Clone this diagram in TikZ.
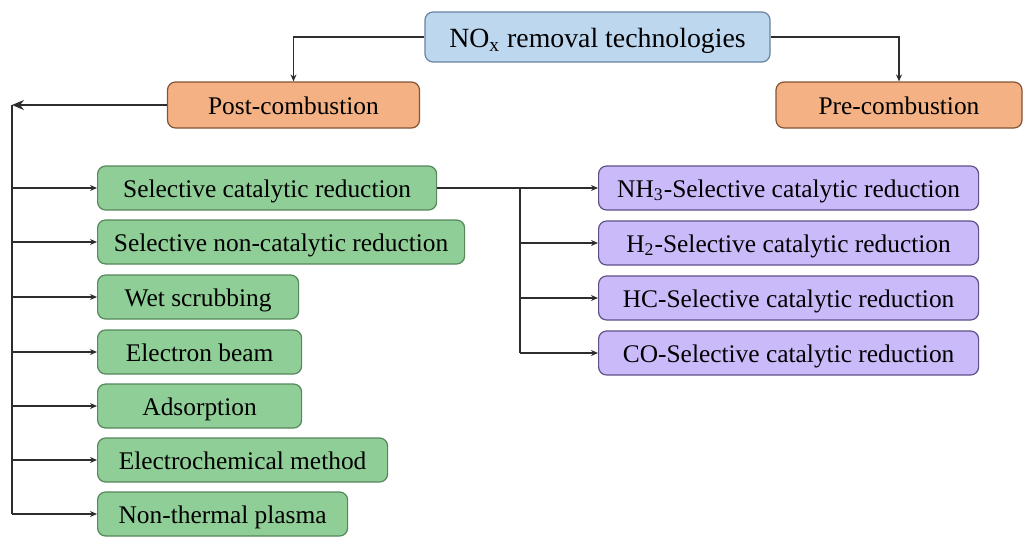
\documentclass[tikz,border=0pt]{standalone}
\usepackage{fontspec}
\setmainfont{Liberation Serif}
\usetikzlibrary{arrows.meta,positioning,calc}

\definecolor{topfill}{RGB}{189,215,238}
\definecolor{topdraw}{RGB}{105,130,160}
\definecolor{combfill}{RGB}{244,177,131}
\definecolor{combdraw}{RGB}{130,85,55}
\definecolor{techfill}{RGB}{143,206,150}
\definecolor{techdraw}{RGB}{85,135,90}
\definecolor{scrfill}{RGB}{203,186,250}
\definecolor{scrdraw}{RGB}{95,80,135}
\definecolor{wire}{RGB}{45,45,45}

\begin{document}
\begin{tikzpicture}[x=0.5pt,y=-0.5pt,
                    box/.style={rectangle,rounded corners=4pt,line width=0.6pt,inner sep=0pt,
                                minimum height=22pt,text height=11pt,text depth=2pt,
                                font=\fontsize{12.7}{15}\selectfont},
                    top node/.style={box,fill=topfill,draw=topdraw,minimum height=25pt,
                                     text height=12pt,text depth=2pt,
                                     font=\fontsize{13.9}{17}\selectfont},
                    comb node/.style={box,fill=combfill,draw=combdraw,minimum height=23pt},
                    tech node/.style={box,fill=techfill,draw=techdraw,anchor=west},
                    scr node/.style={box,fill=scrfill,draw=scrdraw,anchor=west,minimum width=190pt},
                    wire/.style={draw=wire,line width=0.65pt},
                    arr/.style={wire,-{Stealth[length=3.5pt,width=3pt]}},
                    big arr/.style={wire,-{Stealth[length=6pt,width=5pt]}}
                   ]
    \useasboundingbox (0,0) rectangle (1023,537);

    \node[top node,minimum width=172.5pt] (nox) at (597.5,37) {NO\textsubscript{x} removal technologies};
    \node[comb node,minimum width=126pt] (post) at (293.5,105) {Post-combustion};
    \node[comb node,minimum width=123pt] (pre) at (899,105) {Pre-combustion};

    % post-combustion technologies
    \node[tech node,minimum width=169.5pt] (scr)  at (97,188) {Selective catalytic reduction};
    \node[tech node,minimum width=183.5pt] (sncr) at (97,242) {Selective non-catalytic reduction};
    \node[tech node,minimum width=100.5pt] (wet)  at (97,297) {Wet scrubbing};
    \node[tech node,minimum width=102pt]   (eb)   at (97,352) {Electron beam};
    \node[tech node,minimum width=102pt]   (ads)  at (97,406) {Adsorption};
    \node[tech node,minimum width=145pt]   (ec)   at (97,460) {Electrochemical method};
    \node[tech node,minimum width=125pt]   (ntp)  at (97,514) {Non-thermal plasma};

    % kinds of SCR
    \node[scr node] (nh3) at (598,188) {NH\textsubscript{3}-Selective catalytic reduction};
    \node[scr node] (h2)  at (598,243) {H\textsubscript{2}-Selective catalytic reduction};
    \node[scr node] (hc)  at (598,298) {HC-Selective catalytic reduction};
    \node[scr node] (co)  at (598,353) {CO-Selective catalytic reduction};

    \coordinate (trunk) at (12,105);
    \coordinate (fork) at (520,188);

    \draw[arr] (nox.west) -| (post.north);
    \draw[arr] (nox.east) -| (pre.north);
    \draw[big arr] (post.west) -- (trunk);
    \draw[wire] (trunk) -- (trunk |- ntp.west);
    \foreach \n in {scr,sncr,wet,eb,ads,ec,ntp}
        \draw[arr] (trunk |- \n.west) -- (\n.west);
    \draw[arr] (scr.east) -- (nh3.west);
    \draw[wire] (fork) -- (fork |- co.west);
    \foreach \n in {h2,hc,co}
        \draw[arr] (fork |- \n.west) -- (\n.west);
\end{tikzpicture}
\end{document}
